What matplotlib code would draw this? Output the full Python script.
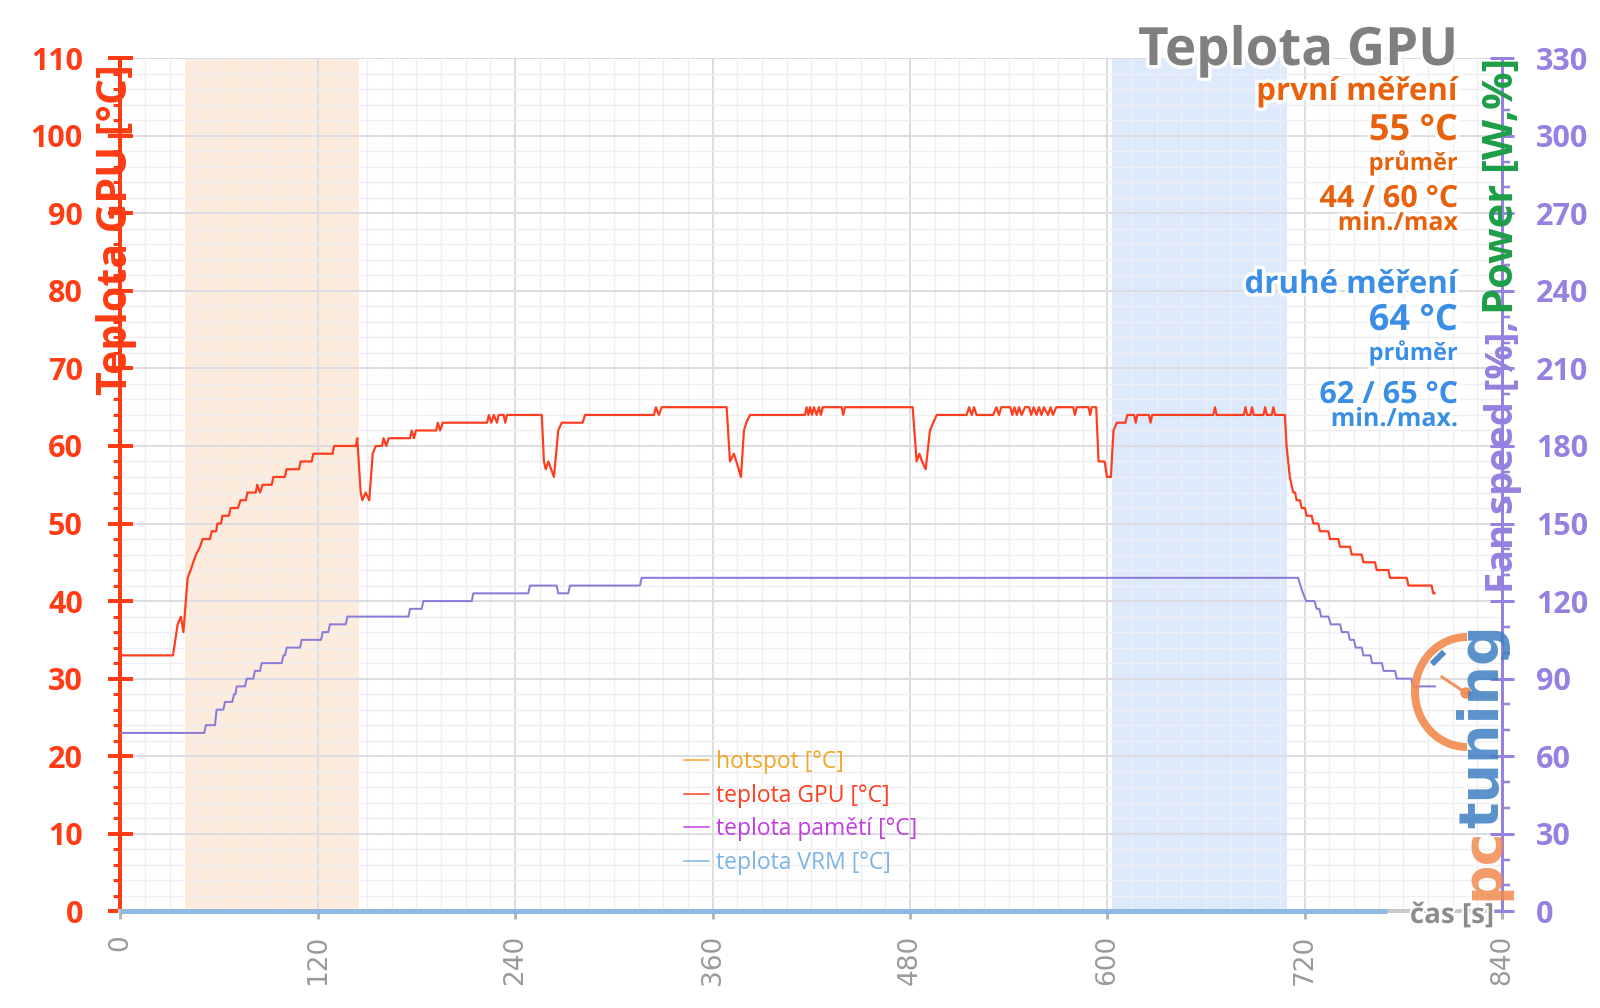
import matplotlib
matplotlib.use("Agg")
import matplotlib.pyplot as plt
import matplotlib.patheffects as pe
from matplotlib.patches import Arc, Circle
from matplotlib.lines import Line2D
from matplotlib.ticker import MultipleLocator

plt.rcParams['font.family'] = ['Open Sans', 'DejaVu Sans']

# ---------------- data ----------------
x_ticks = [0, 120, 240, 360, 480, 600, 720, 840]
y_left_ticks = [0, 10, 20, 30, 40, 50, 60, 70, 80, 90, 100, 110]
y_right_ticks = [0, 30, 60, 90, 120, 150, 180, 210, 240, 270, 300, 330]

series_labels = ['hotspot [°C]', 'teplota GPU [°C]', 'teplota pamětí [°C]', 'teplota VRM [°C]']

gpu_time = [0, 32, 34.8, 36.8, 38.3, 40.9, 42.7, 44.3, 46, 48.4, 50, 54.5, 55.5, 58.2, 59, 61.2, 62, 66, 67, 71.5,
            73, 76.3, 77.2, 82.3, 83.2, 84.9, 86.5, 92, 93, 100, 101, 108.6, 109.6, 116.3, 117.3, 129, 129.9, 143.2, 144, 146.1,
            147.1, 149.1, 151.3, 153.4, 155.2, 159, 160, 161.7, 163.1, 176.1, 177.1, 178.5, 179.7, 192, 193, 194.4, 196, 223, 224, 225.5,
            227, 229, 230, 233, 234, 235, 256.2, 257.5, 258.6, 260.2, 263.6, 266.2, 268.3, 281, 282.5, 324.4, 325.6, 327.4, 329.1, 368.6,
            370.6, 373, 374.5, 377.3, 379.1, 380.5, 382.8, 416.2, 417.2, 418.3, 419.3, 420.5, 421.7, 423.3, 424.7, 425.9, 427, 438.5, 439.5, 440.5,
            481.7, 484.1, 485.8, 487.4, 489.6, 492.2, 494.2, 496.3, 514.5, 516, 517.6, 519, 520.5, 530.6, 532.6, 534.2, 535.6, 541, 542.3, 543.6,
            545, 546.4, 548, 550, 552.5, 553.8, 555.2, 557, 558.5, 560, 561.5, 564, 565.5, 567, 569, 579.3, 580.3, 581.5, 588.6, 589.6,
            590.6, 593.3, 594.7, 598.4, 599.8, 602.2, 603.8, 605.8, 611, 612.2, 616.3, 617.3, 618.3, 625.3, 626.3, 627.3, 664.5, 665.5, 666.5, 683,
            684, 685, 687, 688, 689, 695, 696, 697, 700, 701, 702, 708, 709, 710, 711, 712, 713.1, 714.2, 715.1, 717.2,
            718.2, 720.2, 721.2, 724.3, 725.3, 728.3, 729.3, 734.4, 735.4, 740.5, 741.5, 747.6, 748.6, 754.7, 755.7, 762.8, 763.8, 770.9, 771.9, 782.1,
            783.1, 797.2, 798.2, 799]
gpu_temp = [33, 33, 37, 38, 36, 43, 44, 45, 46, 47, 48, 48, 49, 49, 50, 50, 51, 51, 52, 52,
            53, 53, 54, 54, 55, 54, 55, 55, 56, 56, 57, 57, 58, 58, 59, 59, 60, 60, 61, 54,
            53, 54, 53, 59, 60, 60, 61, 60, 61, 61, 62, 61, 62, 62, 63, 62, 63, 63, 64, 63,
            64, 63, 64, 64, 63, 64, 64, 58, 57, 58, 56, 62, 63, 63, 64, 64, 65, 64, 65, 65,
            58, 59, 58, 56, 62, 63, 64, 64, 65, 64, 65, 64, 65, 64, 65, 64, 65, 65, 64, 65,
            65, 58, 59, 58, 57, 62, 63, 64, 64, 65, 64, 65, 64, 64, 65, 64, 65, 65, 64, 65,
            64, 65, 64, 65, 65, 64, 65, 64, 65, 64, 65, 64, 65, 64, 65, 65, 64, 65, 65, 64,
            65, 65, 58, 58, 56, 56, 62, 63, 63, 64, 64, 63, 64, 64, 63, 64, 64, 65, 64, 64,
            65, 64, 64, 65, 64, 64, 65, 64, 64, 65, 64, 64, 60, 58, 56, 55, 54, 54, 53, 53,
            52, 52, 51, 51, 50, 50, 49, 49, 48, 48, 47, 47, 46, 46, 45, 45, 44, 44, 43, 43,
            42, 42, 41, 41]

fan_time = [0, 51, 52, 57.5, 58.5, 62.6, 63.6, 68, 69.1, 70, 70.7, 75.8, 76.8, 80.8, 81.8, 84.9, 85.9, 98.1, 99.1, 100.1,
            101.1, 109.2, 110.2, 122, 123, 126.4, 127.4, 137, 138, 175.1, 176.1, 183.2, 184.2, 213.6, 214.6, 248, 249, 265.2, 266.2, 272.3,
            273.3, 315.9, 316.9, 716, 717.5, 719, 721, 726, 727.3, 729, 730, 734.5, 735.9, 741.6, 742.6, 746.5, 747.5, 750, 751, 754.7,
            755.7, 760, 761, 767, 768, 775, 776, 784.8, 785.8, 799.2]
fan_value = [69, 69, 72, 72, 78, 78, 81, 81, 84, 84, 87, 87, 90, 90, 93, 93, 96, 96, 99, 99,
             102, 102, 105, 105, 108, 108, 111, 111, 114, 114, 117, 117, 120, 120, 123, 123, 126, 126, 123, 123,
             126, 126, 129, 129, 126, 123, 120, 120, 117, 117, 114, 114, 111, 111, 108, 108, 105, 105, 102, 102,
             99, 99, 96, 96, 93, 93, 90, 90, 87, 87]

vrm_time = [0, 770]
vrm_temp = [0, 0]
hotspot_time, hotspot_temp = [], []
memory_time, memory_temp = [], []

shade_first = (39, 145)
shade_second = (603, 709)

# ---------------- style ----------------
W, H = 1600, 1008
PX = 0.72  # points per pixel at dpi 100
C_RED = '#ff3c14'
C_LINE = '#ff3d1f'
C_PURP = '#9680e0'
C_FAN = '#8a7bd8'
C_VRM = '#8fb8e2'
C_HOT = '#f2a526'
C_MEM = '#c23ee0'

fig = plt.figure(figsize=(16, 10.08), dpi=100)
fig.patch.set_facecolor('white')

L, R, B, T = 120.4, 1502.0, 911.3, 58.2
ax = fig.add_axes([L / W, 1 - B / H, (R - L) / W, (B - T) / H])
ax.set_xlim(0, 840)
ax.set_ylim(0, 110)
ax2 = ax.twinx()
ax2.set_ylim(0, 330)

ax.set_axisbelow(True)
ax.xaxis.set_minor_locator(MultipleLocator(15))
ax.yaxis.set_minor_locator(MultipleLocator(2))
ax.set_xticks(x_ticks, labels=[str(v) for v in x_ticks], family='DejaVu Sans', rotation=90)
ax.set_yticks(y_left_ticks, labels=[str(v) for v in y_left_ticks], fontweight='bold')
ax2.set_yticks(y_right_ticks, labels=[str(v) for v in y_right_ticks], fontweight='bold')
ax2.yaxis.set_minor_locator(MultipleLocator(10))
ax.grid(which='major', color='#dcdce2', lw=2 * PX)
ax.grid(which='minor', color='#efeff3', lw=1.4 * PX)

ax.axvspan(*shade_first, color='#fdebdc', lw=0, zorder=0.3)
ax.axvspan(*shade_second, color='#ddeafc', lw=0, zorder=0.3)

for s in ['top', 'right']:
    ax.spines[s].set_visible(False)
ax.spines['left'].set_color(C_RED)
ax.spines['left'].set_linewidth(4 * PX)
ax.spines['bottom'].set_color('#c8c8c8')
ax.spines['bottom'].set_linewidth(4 * PX)
for s in ['top', 'left', 'bottom']:
    ax2.spines[s].set_visible(False)
ax2.spines['right'].set_color(C_PURP)
ax2.spines['right'].set_linewidth(3 * PX)

ax.tick_params(axis='y', which='major', direction='inout', length=25 * PX, width=4 * PX,
               color=C_RED, labelcolor=C_RED, labelsize=22, pad=18)
ax.tick_params(axis='y', which='minor', direction='out', length=7 * PX, width=3 * PX, color=C_RED)
ax.tick_params(axis='x', which='major', direction='out', length=8 * PX, width=3 * PX,
               color='#b4b4b4', labelcolor='#9a9a9a', labelsize=19, pad=11)
ax.tick_params(axis='x', which='minor', length=0)
ax2.tick_params(axis='y', which='major', direction='inout', length=24 * PX, width=3 * PX,
                color=C_PURP, labelcolor=C_PURP, labelsize=22, pad=16)
ax2.tick_params(axis='y', which='minor', direction='out', length=8 * PX, width=2.5 * PX, color=C_PURP)

ax.plot(hotspot_time, hotspot_temp, color=C_HOT)
ax.plot(memory_time, memory_temp, color=C_MEM)
ax.plot(vrm_time, vrm_temp, color=C_VRM, lw=5 * PX, clip_on=False, zorder=3.5, solid_capstyle='butt')
ax.plot(gpu_time, gpu_temp, color=C_LINE, lw=2.2 * PX, zorder=4)
ax2.plot(fan_time, fan_value, color=C_FAN, lw=2 * PX, zorder=3)

handles = [Line2D([], [], color=C_HOT, lw=1.5 * PX), Line2D([], [], color=C_LINE, lw=1.5 * PX),
           Line2D([], [], color=C_MEM, lw=1.5 * PX), Line2D([], [], color='#7fb2e5', lw=1.5 * PX)]
leg = fig.legend(handles, series_labels, loc='upper left', bbox_to_anchor=(684 / W, 1 - 750 / H),
                 frameon=False, fontsize=16.5, handlelength=1.1, handletextpad=0.3, labelspacing=0.42,
                 borderpad=0, borderaxespad=0, labelcolor='linecolor')

# ---------------- overlay texts (pixel coordinates) ----------------
ov = fig.add_axes([0, 0, 1, 1], zorder=10)
ov.set_xlim(0, W)
ov.set_ylim(H, 0)
ov.axis('off')
ov.patch.set_alpha(0)

glow = [pe.withStroke(linewidth=5, foreground='white')]
XR = 1458
ov.text(XR, 65, 'Teplota GPU', ha='right', va='baseline', fontsize=38, fontweight='bold', color='#7f7f7f', path_effects=glow)
C_OR = '#e8620e'
C_BL = '#3a8ee6'
ov.text(XR, 100, 'první měření', ha='right', va='baseline', fontsize=22.5, fontweight='bold', color=C_OR, path_effects=glow)
ov.text(XR, 140, '55 °C', ha='right', va='baseline', fontsize=26, fontweight='bold', color=C_OR, path_effects=glow)
ov.text(XR, 170, 'průměr', ha='right', va='baseline', fontsize=17, fontweight='bold', color=C_OR, path_effects=glow)
ov.text(XR, 207, '44 / 60 °C', ha='right', va='baseline', fontsize=22, fontweight='bold', color=C_OR, path_effects=glow)
ov.text(XR, 230, 'min./max', ha='right', va='baseline', fontsize=18, fontweight='bold', color=C_OR, path_effects=glow)
ov.text(XR, 293, 'druhé měření', ha='right', va='baseline', fontsize=22.5, fontweight='bold', color=C_BL, path_effects=glow)
ov.text(XR, 330, '64 °C', ha='right', va='baseline', fontsize=26, fontweight='bold', color=C_BL, path_effects=glow)
ov.text(XR, 360, 'průměr', ha='right', va='baseline', fontsize=17, fontweight='bold', color=C_BL, path_effects=glow)
ov.text(XR, 403, '62 / 65 °C', ha='right', va='baseline', fontsize=22, fontweight='bold', color=C_BL, path_effects=glow)
ov.text(XR, 426, 'min./max.', ha='right', va='baseline', fontsize=18, fontweight='bold', color=C_BL, path_effects=glow)

# left axis title
ov.text(127, 64, 'Teplota GPU [°C]', rotation=90, rotation_mode='anchor', ha='right', va='baseline',
        fontsize=29.5, fontweight='bold', color=C_RED)

# logo
C_LOGO_O = '#f28a4e'
C_LOGO_B = '#3f7fc2'
ov.add_patch(Arc((1467, 692), 104, 110, theta1=90, theta2=270, lw=8 * PX, color=C_LOGO_O, alpha=0.9))
ov.plot([1442, 1466], [677, 693], color=C_LOGO_O, lw=3 * PX, alpha=0.9)
ov.add_patch(Circle((1466, 693), 5, color=C_LOGO_O, alpha=0.9))
ov.plot([1434, 1442], [662, 654], color=C_LOGO_B, lw=6 * PX, alpha=0.9)

renderer = fig.canvas.get_renderer()
t_pc = ov.text(1498, 900, 'pc', rotation=90, rotation_mode='anchor', ha='left', va='baseline',
               fontsize=40, fontweight='bold', family='DejaVu Sans', color=C_LOGO_O, alpha=0.85)
pc_len = t_pc.get_window_extent(renderer).height
ov.text(1498, 900 - pc_len, 'tuning', rotation=90, rotation_mode='anchor', ha='left', va='baseline',
        fontsize=40, fontweight='bold', family='DejaVu Sans', color=C_LOGO_B, alpha=0.85)

# right axis title (two colours)
t_pow = ov.text(1513, 58, 'Power [W,%]', rotation=90, rotation_mode='anchor', ha='right', va='baseline',
                fontsize=30, fontweight='bold', color='#1e9e48')
pow_len = t_pow.get_window_extent(renderer).height
ov.text(1513, 58 + pow_len + 6, 'Fan speed [%],', rotation=90, rotation_mode='anchor', ha='right', va='baseline',
        fontsize=27.5, fontweight='bold', color=C_PURP)

# x axis title
ov.text(1494, 923, 'čas [s]', ha='right', va='baseline', fontsize=20, fontweight='bold', color='#8c8c8c',
        path_effects=[pe.withStroke(linewidth=3, foreground='white')])

fig.savefig('out.png', dpi=100, facecolor='white')
